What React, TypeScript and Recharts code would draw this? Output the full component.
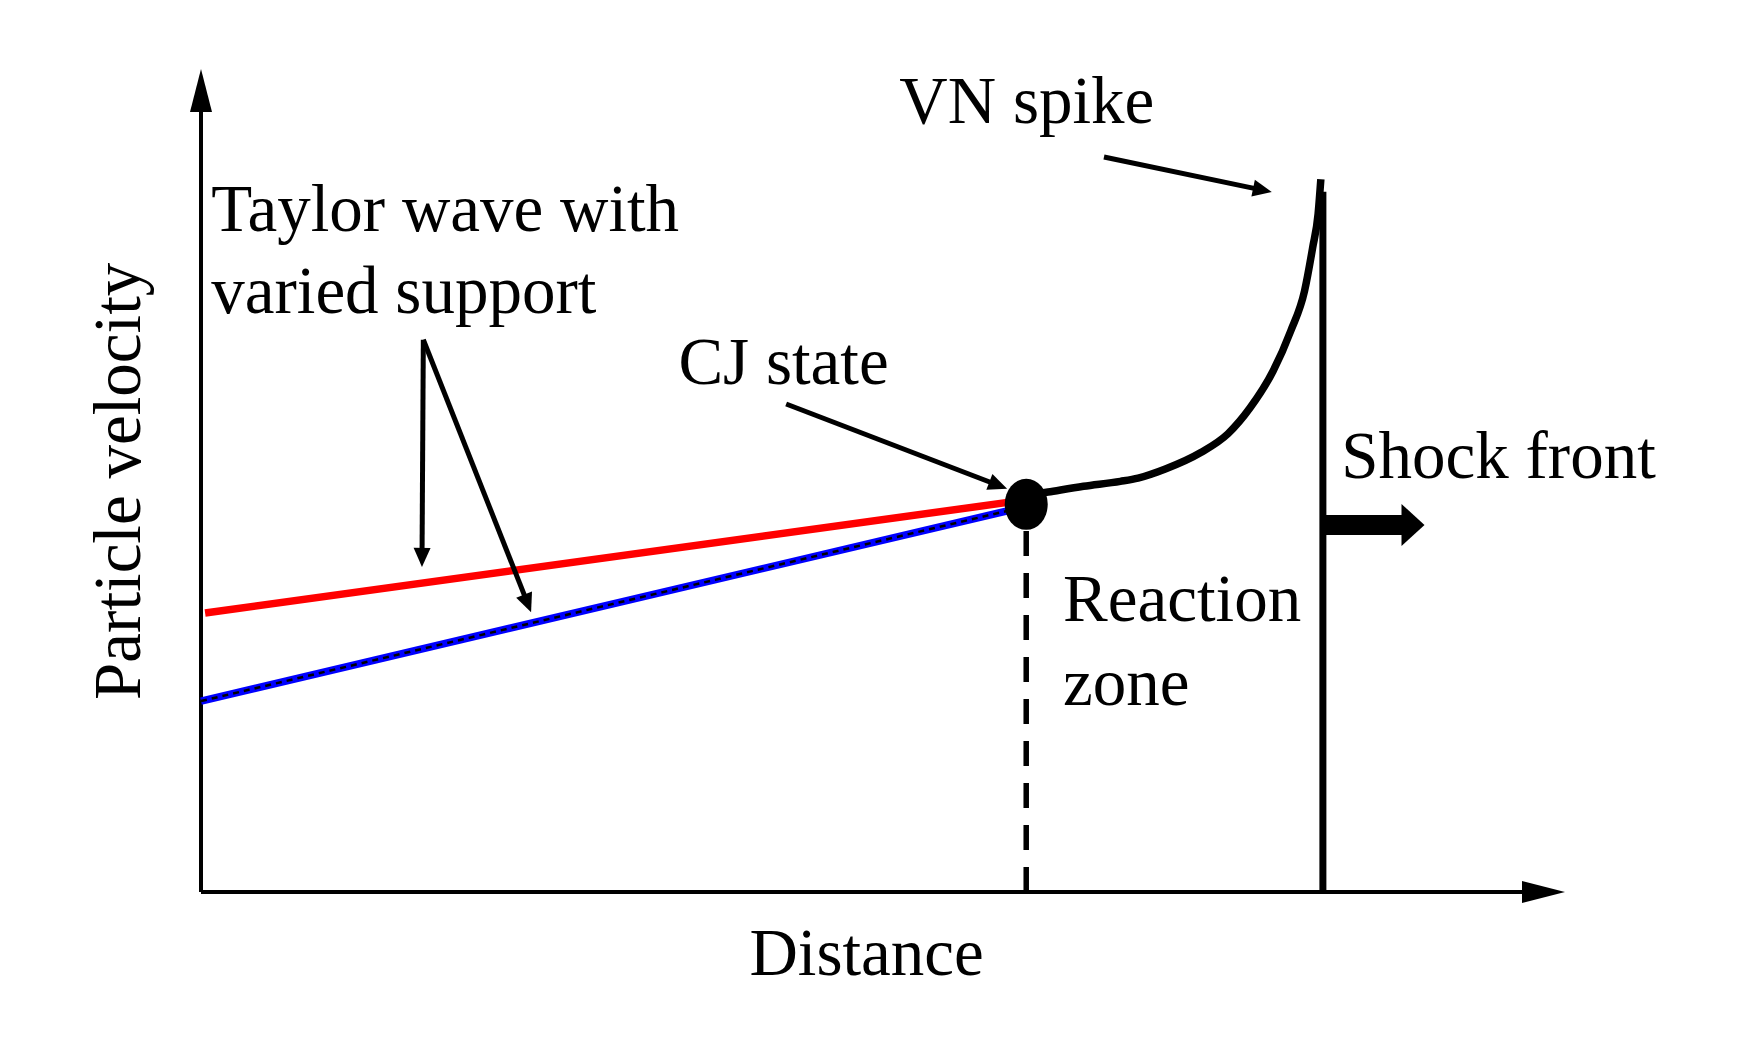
import React from 'react';
import { ComposedChart, Line, Scatter, XAxis, YAxis, ReferenceLine, ReferenceDot } from 'recharts';

// Data coordinates (arbitrary units, axes run 0..100)
const X_DOMAIN = [0, 100];
const Y_DOMAIN = [0, 100];

const redTaylor = [
  { x: 0.3, y: 33.9 },
  { x: 59.4, y: 47.4 },
];
const blueTaylor = [
  { x: 0, y: 23.2 },
  { x: 59.6, y: 46.5 },
];
const cjState = [{ x: 60.5, y: 47.1 }];
const cjDashed = [
  { x: 60.5, y: 0 },
  { x: 60.5, y: 45 },
];
const reactionCurve = [
  { x: 60.6, y: 48.2 },
  { x: 62.1, y: 48.6 },
  { x: 64.7, y: 49.3 },
  { x: 67.4, y: 49.9 },
  { x: 68.7, y: 50.3 },
  { x: 70.7, y: 51.4 },
  { x: 73.3, y: 53.4 },
  { x: 75.3, y: 55.7 },
  { x: 76.9, y: 58.8 },
  { x: 78.6, y: 63.3 },
  { x: 79.9, y: 68.2 },
  { x: 80.9, y: 73.0 },
  { x: 81.5, y: 78.3 },
  { x: 81.9, y: 82.4 },
  { x: 82.1, y: 86.6 },
];
const shockFront = [
  { x: 82.25, y: 0 },
  { x: 82.25, y: 85.1 },
];

// Arrows: [start, end]
const axisArrows = [
  [{ x: 0, y: 0 }, { x: 0, y: 100 }],
  [{ x: 0, y: 0 }, { x: 100, y: 0 }],
];
const annotationArrows = [
  [{ x: 66.2, y: 89.3 }, { x: 78.5, y: 85.05 }],
  [{ x: 42.9, y: 59.3 }, { x: 59.1, y: 49.0 }],
  [{ x: 16.3, y: 67.1 }, { x: 16.2, y: 39.5 }],
  [{ x: 16.3, y: 67.1 }, { x: 24.2, y: 34.0 }],
];
const shockArrow = [{ x: 82.25, y: 44.6 }, { x: 89.7, y: 44.6 }];

// Text labels: text, x (left / anchor), y (baseline)
const labels = [
  { text: 'VN spike', x: 51.2, y: 93.4, anchor: 'start' },
  { text: 'Taylor wave with', x: 0.75, y: 80.3, anchor: 'start' },
  { text: 'varied support', x: 0.75, y: 70.4, anchor: 'start' },
  { text: 'CJ state', x: 35.0, y: 61.7, anchor: 'start' },
  { text: 'Shock front', x: 83.6, y: 50.3, anchor: 'start' },
  { text: 'Reaction', x: 63.2, y: 32.9, anchor: 'start' },
  { text: 'zone', x: 63.2, y: 22.7, anchor: 'start' },
  { text: 'Distance', x: 48.8, y: -10.1, anchor: 'middle' },
];
const yTitle = { text: 'Particle velocity', x: -4.5, y: 49.9 };

const FONT = '"Liberation Serif", "Times New Roman", serif';
const FONT_SIZE = 67;

const makeArrow = (headLen: number, headHalf: number, width: number) => (props: any) => {
  const x1 = Number(props.x1), y1 = Number(props.y1), x2 = Number(props.x2), y2 = Number(props.y2);
  const dx = x2 - x1, dy = y2 - y1;
  const len = Math.hypot(dx, dy) || 1;
  const ux = dx / len, uy = dy / len;
  const bx = x2 - ux * headLen, by = y2 - uy * headLen;
  const px = -uy, py = ux;
  return (
    <g>
      <line x1={x1} y1={y1} x2={bx + ux * 1} y2={by + uy * 1} stroke="#000" strokeWidth={width} strokeLinecap="butt" />
      <polygon
        points={`${x2},${y2} ${bx + px * headHalf},${by + py * headHalf} ${bx - px * headHalf},${by - py * headHalf}`}
        fill="#000"
      />
    </g>
  );
};

const axisArrowShape = makeArrow(43, 11, 4);
const annoArrowShape = makeArrow(19, 8.5, 5);
const shockArrowShape = makeArrow(23, 21, 20);

export default function App() {
  return (
    <div style={{ position: 'absolute', left: 0, top: 0, background: '#fff' }}>
      <ComposedChart
        width={1748}
        height={1039}
        margin={{ top: 69, right: 183, bottom: 147, left: 201 }}
        style={{ background: '#fff' }}
      >
        <XAxis type="number" dataKey="x" domain={X_DOMAIN} hide />
        <YAxis type="number" dataKey="y" domain={Y_DOMAIN} hide />

        {axisArrows.map((seg, i) => (
          <ReferenceLine key={'ax' + i} segment={seg} shape={axisArrowShape} ifOverflow="visible" />
        ))}

        <Line data={redTaylor} dataKey="y" type="linear" stroke="#ff0000" strokeWidth={7.5} dot={false} isAnimationActive={false} />
        <Line data={blueTaylor} dataKey="y" type="linear" stroke="#0000ff" strokeWidth={7.5} dot={false} isAnimationActive={false} />
        <Line data={blueTaylor} dataKey="y" type="linear" stroke="#000" strokeWidth={2.5} strokeDasharray="6 5" dot={false} isAnimationActive={false} />
        <Line data={cjDashed} dataKey="y" type="linear" stroke="#000" strokeWidth={5.5} strokeDasharray="25 17" dot={false} isAnimationActive={false} />
        <Line data={reactionCurve} dataKey="y" type="monotone" stroke="#000" strokeWidth={7.5} dot={false} isAnimationActive={false} />
        <Line data={shockFront} dataKey="y" type="linear" stroke="#000" strokeWidth={7} dot={false} isAnimationActive={false} />
        <Scatter
          data={cjState}
          isAnimationActive={false}
          shape={(p: any) => <ellipse cx={p.cx} cy={p.cy} rx={21.5} ry={25.5} fill="#000" />}
        />

        {annotationArrows.map((seg, i) => (
          <ReferenceLine key={'an' + i} segment={seg} shape={annoArrowShape} ifOverflow="visible" />
        ))}
        <ReferenceLine segment={shockArrow} shape={shockArrowShape} ifOverflow="visible" />

        {labels.map((l, i) => (
          <ReferenceDot
            key={'lb' + i}
            x={l.x}
            y={l.y}
            ifOverflow="visible"
            shape={(p: any) => (
              <text x={p.cx} y={p.cy} textAnchor={l.anchor} fontFamily={FONT} fontSize={FONT_SIZE} fill="#000">
                {l.text}
              </text>
            )}
          />
        ))}
        <ReferenceDot
          x={yTitle.x}
          y={yTitle.y}
          ifOverflow="visible"
          shape={(p: any) => (
            <text
              x={p.cx}
              y={p.cy}
              textAnchor="middle"
              fontFamily={FONT}
              fontSize={FONT_SIZE}
              fill="#000"
              transform={`rotate(-90 ${p.cx} ${p.cy})`}
            >
              {yTitle.text}
            </text>
          )}
        />
      </ComposedChart>
    </div>
  );
}
